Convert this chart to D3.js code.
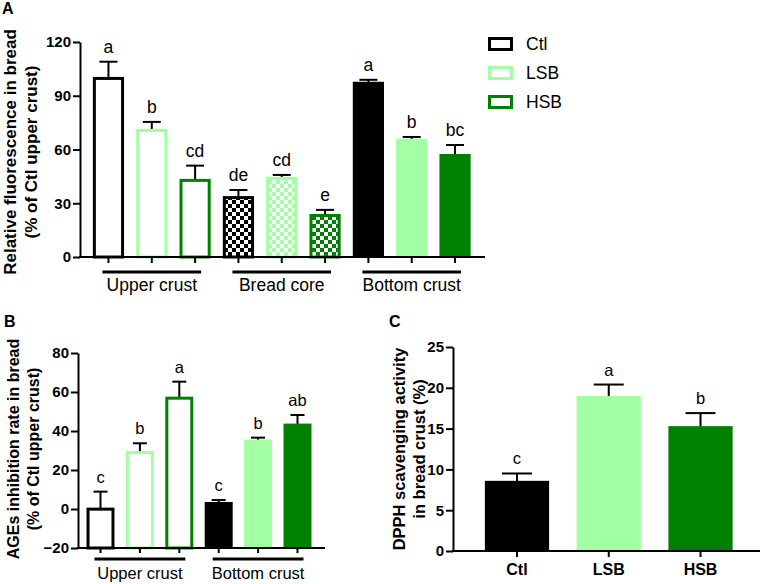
<!DOCTYPE html>
<html><head><meta charset="utf-8">
<script src="https://cdn.jsdelivr.net/npm/d3@7"></script>
<style>
body{margin:0;background:#fff;}
svg{display:block;font-family:"Liberation Sans",Arial,sans-serif;}
</style></head>
<body><svg id="c" width="764" height="584"></svg>
<script>
// ---------- data ----------
const treatments = ["Ctl","LSB","HSB"];
const colors = ["#000000","#a3ffa3","#008000"];

// Panel A: relative fluorescence (% of Ctl upper crust)
const groupsA = ["Upper crust","Bread core","Bottom crust"];
const fluorUpper = [100.5, 71.5, 43.6];
const fluorCore = [34.0, 44.7, 24.0];
const fluorBottom = [97.8, 66.0, 57.5];
const fluorErrUpper = [8.5, 3.9, 7.4];
const fluorErrCore = [3.4, 1.1, 2.3];
const fluorErrBottom = [1.1, 1.0, 5.0];
const fluorLetters = ["a","b","cd","de","cd","e","a","b","bc"];
const ticksA = [0,30,60,90,120];

// Panel B: AGEs inhibition rate
const groupsB = ["Upper crust","Bottom crust"];
const agesUpper = [0.7, 29.7, 57.6];
const agesBottom = [3.6, 35.6, 43.8];
const agesErrUpper = [8.2, 4.0, 7.7];
const agesErrBottom = [1.0, 1.0, 4.4];
const agesLetters = ["c","b","a","c","b","ab"];
const ticksB = [-20,0,20,40,60,80];

// Panel C: DPPH scavenging activity
const dpph = [8.6, 19.0, 15.3];
const dpphErr = [0.9, 1.4, 1.6];
const dpphLetters = ["c","a","b"];
const ticksC = [0,5,10,15,20,25];

// ---------- drawing ----------
const svg = d3.select("#c");
const defs = svg.append("defs");
colors.forEach((c,i)=>{
  const p = defs.append("pattern").attr("id","chk"+i).attr("patternUnits","userSpaceOnUse")
    .attr("width",8).attr("height",8);
  p.append("rect").attr("width",8).attr("height",8).attr("fill","#fff");
  p.append("rect").attr("width",4).attr("height",4).attr("fill",c);
  p.append("rect").attr("x",4).attr("y",4).attr("width",4).attr("height",4).attr("fill",c);
});

function buildRows(groups, means, errs, styles){
  const rows=[];
  groups.forEach((g,gi)=>{
    treatments.forEach((t,ti)=>{
      rows.push({group:g, gi, ti, key:g+"|"+t, v:means[gi][ti], e:errs[gi][ti], style:styles[gi]});
    });
  });
  return rows;
}

function yAxis(g, y, x0, ticks){
  const ax = g.append("g").attr("transform",`translate(${x0},0)`)
    .call(d3.axisLeft(y).tickValues(ticks).tickSize(7).tickSizeOuter(0).tickPadding(2));
  ax.select(".domain").attr("stroke","#000").attr("stroke-width",2);
  ax.selectAll(".tick line").attr("stroke","#000").attr("stroke-width",2);
  ax.selectAll(".tick text").attr("font-size",15).attr("font-weight","bold").attr("fill","#000")
    .attr("font-family","'Liberation Sans',Arial,sans-serif");
  return ax;
}

function drawBars(g, rows, x, y, base, letters, opts){
  const bw = x.bandwidth();
  rows.forEach((r,i)=>{
    const x0 = x(r.key), col = colors[r.ti];
    const ytop = y(r.v), ybase = y(base);
    const cx = x0 + bw/2;
    const ye = y(r.v + r.e);
    g.append("line").attr("x1",cx).attr("x2",cx).attr("y1",ytop+2).attr("y2",ye)
      .attr("stroke","#000").attr("stroke-width",2);
    g.append("line").attr("x1",cx-opts.cap/2).attr("x2",cx+opts.cap/2).attr("y1",ye).attr("y2",ye)
      .attr("stroke","#000").attr("stroke-width",2);
    const sw = opts.sw;
    if(r.style==="outline"){
      g.append("rect").attr("x",x0+sw/2).attr("y",ytop+sw/2).attr("width",bw-sw).attr("height",ybase-ytop-sw/2)
        .attr("fill","#fff").attr("stroke",col).attr("stroke-width",sw);
    } else if(r.style==="checker"){
      g.append("rect").attr("x",x0+sw/2).attr("y",ytop+sw/2).attr("width",bw-sw).attr("height",ybase-ytop-sw/2)
        .attr("fill",`url(#chk${r.ti})`).attr("stroke",col).attr("stroke-width",sw);
    } else {
      g.append("rect").attr("x",x0).attr("y",ytop).attr("width",bw).attr("height",ybase-ytop)
        .attr("fill",col);
    }
    g.append("text").attr("x",cx).attr("y",ye-opts.lgap).attr("text-anchor","middle")
      .attr("font-size",opts.lfs).attr("fill","#000").text(letters[i]);
  });
}

function xAxisLine(g, x0, x1, y0){
  g.append("line").attr("x1",x0).attr("x2",x1).attr("y1",y0).attr("y2",y0)
    .attr("stroke","#000").attr("stroke-width",2);
}

function xTicks(g, rows, x, y0, len){
  rows.forEach(r=>{
    const cx = x(r.key)+x.bandwidth()/2;
    g.append("line").attr("x1",cx).attr("x2",cx).attr("y1",y0).attr("y2",y0+len)
      .attr("stroke","#000").attr("stroke-width",2);
  });
}

function groupLines(g, rows, groups, x, yLine, yText, fs){
  groups.forEach(gn=>{
    const rs = rows.filter(r=>r.group===gn);
    const c0 = x(rs[0].key)+x.bandwidth()/2, c1 = x(rs[rs.length-1].key)+x.bandwidth()/2;
    g.append("line").attr("x1",c0-6).attr("x2",c1+6).attr("y1",yLine).attr("y2",yLine)
      .attr("stroke","#000").attr("stroke-width",3);
    g.append("text").attr("x",(c0+c1)/2).attr("y",yText).attr("text-anchor","middle")
      .attr("font-size",fs).attr("fill","#000").text(gn);
  });
}

function yTitle(g, lines, xs, cy, fs){
  lines.forEach((t,i)=>{
    g.append("text").attr("transform",`translate(${xs[i]},${cy}) rotate(-90)`)
      .attr("text-anchor","middle").attr("font-size",fs).attr("font-weight","bold").attr("fill","#000").text(t);
  });
}

function panelLabel(x0,y0,t){
  svg.append("text").attr("x",x0).attr("y",y0).attr("font-size",16).attr("font-weight","bold").text(t);
}

// ===== Panel A =====
{
  const g = svg.append("g");
  const rows = buildRows(groupsA,[fluorUpper,fluorCore,fluorBottom],[fluorErrUpper,fluorErrCore,fluorErrBottom],["outline","checker","solid"]);
  const x = d3.scaleBand().domain(rows.map(r=>r.key)).range([86.8,476.7]).paddingInner(0.28).paddingOuter(0.14);
  const y = d3.scaleLinear().domain([0,120]).range([257,42]);
  drawBars(g, rows, x, y, 0, fluorLetters, {cap:18, sw:3, lgap:9, lfs:17.5});
  xTicks(g, rows, x, 257, 6);
  xAxisLine(g, 79, 485, 257);
  yAxis(g, y, 80, ticksA);
  groupLines(g, rows, groupsA, x, 272, 291, 17.5);
  yTitle(g, ["Relative fluorescence in bread","(% of Ctl upper crust)"], [16,37], 152, 17);
  panelLabel(2,14,"A");
  const lg = svg.append("g");
  treatments.forEach((t,i)=>{
    const yy = 44 + i*29;
    lg.append("rect").attr("x",489.5).attr("y",yy-5.5).attr("width",22).attr("height",11)
      .attr("fill","#fff").attr("stroke",colors[i]).attr("stroke-width",3);
    lg.append("text").attr("x",526).attr("y",yy).attr("dy","0.35em").attr("font-size",17.5).attr("fill","#000").text(t);
  });
}

// ===== Panel B =====
{
  const g = svg.append("g");
  const rows = buildRows(groupsB,[agesUpper,agesBottom],[agesErrUpper,agesErrBottom],["outline","solid"]);
  const x = d3.scaleBand().domain(rows.map(r=>r.key)).range([80.8,317.2]).paddingInner(0.29).paddingOuter(0.145);
  const y = d3.scaleLinear().domain([-20,80]).range([548,353]);
  drawBars(g, rows, x, y, -20, agesLetters, {cap:14, sw:3, lgap:9, lfs:16.5});
  xTicks(g, rows, x, 548, 5);
  xAxisLine(g, 77, 325, 548);
  yAxis(g, y, 78, ticksB);
  groupLines(g, rows, groupsB, x, 559, 579, 16.5);
  yTitle(g, ["AGEs inhibition rate in bread","(% of Ctl upper crust)"], [19,39], 449, 16);
  panelLabel(4,327,"B");
}

// ===== Panel C =====
{
  const g = svg.append("g");
  const x = d3.scaleBand().domain(treatments).range([471.1,746.4]).paddingInner(0.3).paddingOuter(0.15);
  const y = d3.scaleLinear().domain([0,25]).range([551,347]);
  const rows = treatments.map((t,i)=>({key:t, ti:i, v:dpph[i], e:dpphErr[i], style:"solid"}));
  drawBars(g, rows, x, y, 0, dpphLetters, {cap:30, sw:3, lgap:9, lfs:16.5});
  xTicks(g, rows, x, 551, 6);
  xAxisLine(g, 452, 760, 551);
  yAxis(g, y, 453, ticksC);
  treatments.forEach(t=>{
    g.append("text").attr("x",x(t)+x.bandwidth()/2).attr("y",575).attr("text-anchor","middle")
      .attr("font-size",16).attr("font-weight","bold").attr("fill","#000").text(t);
  });
  yTitle(g, ["DPPH scavenging activity","in bread crust (%)"], [405,425], 449, 16.5);
  panelLabel(389,327,"C");
}
</script>
</body></html>
